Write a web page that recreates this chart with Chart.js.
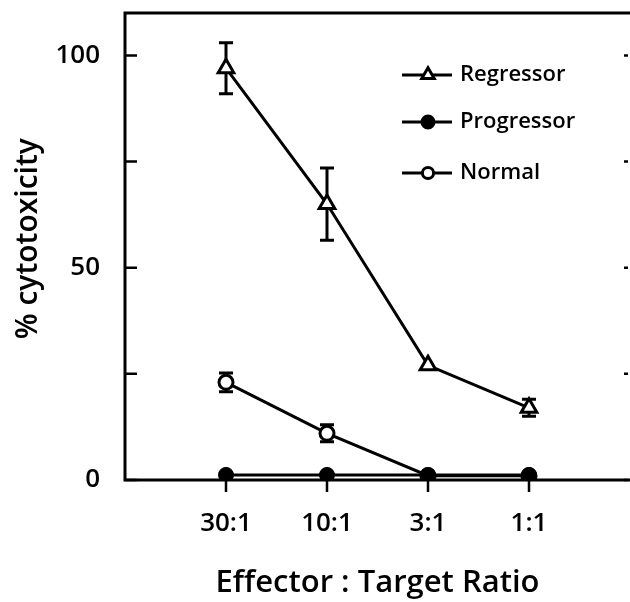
<!DOCTYPE html>
<html>
<head>
<meta charset="utf-8">
<script src="https://cdn.jsdelivr.net/npm/chart.js@4/dist/chart.umd.min.js"></script>
<style>
  html, body { margin: 0; padding: 0; background: #fff; overflow: hidden; }
  #wrap { width: 630px; height: 602px; }
</style>
</head>
<body>
<div id="wrap"><canvas id="chart" width="630" height="602"></canvas></div>
<script>
const categories = ['30:1', '10:1', '3:1', '1:1'];
const regressor = [97, 65, 27, 17];
const regressorErr = [6, 8.5, 0, 2];
const progressor = [1.2, 1.2, 1.2, 1.2];
const normal = [23, 11, 1, 1];
const normalErr = [2.2, 2, 0, 0];
const yTicks = [0, 25, 50, 75, 100];
const yLabels = { 0: '0', 50: '50', 100: '100' };

const FONT = '"Open Sans", "DejaVu Sans", sans-serif';

function toPoints(arr) {
    return arr.map((v, i) => ({ x: i + 1, y: v }));
}

const errorBars = {
    id: 'errorBars',
    beforeDatasetsDraw(chart) {
        const ctx = chart.ctx;
        const yScale = chart.scales.y;
        ctx.save();
        ctx.strokeStyle = '#000';
        ctx.lineWidth = 3;
        chart.data.datasets.forEach((ds, di) => {
            if (!ds.errors) return;
            const meta = chart.getDatasetMeta(di);
            meta.data.forEach((pt, i) => {
                const e = ds.errors[i];
                if (!e) return;
                const v = ds.data[i].y;
                const yT = yScale.getPixelForValue(v + e);
                const yB = yScale.getPixelForValue(v - e);
                ctx.beginPath();
                ctx.moveTo(pt.x, yT);
                ctx.lineTo(pt.x, yB);
                ctx.moveTo(pt.x - 7, yT);
                ctx.lineTo(pt.x + 7, yT);
                ctx.moveTo(pt.x - 7, yB);
                ctx.lineTo(pt.x + 7, yB);
                ctx.stroke();
            });
        });
        ctx.restore();
    }
};

// box on three sides, inward y ticks, outward x ticks
const frame = {
    id: 'frame',
    beforeDatasetsDraw(chart) {
        const ctx = chart.ctx;
        const a = chart.chartArea;
        const x = chart.scales.x, y = chart.scales.y;
        ctx.save();
        ctx.strokeStyle = '#000';
        ctx.lineWidth = 3;
        ctx.beginPath();
        ctx.moveTo(a.right + 5, a.top);
        ctx.lineTo(a.left, a.top);
        ctx.lineTo(a.left, a.bottom);
        ctx.lineTo(a.right + 5, a.bottom);
        ctx.stroke();
        ctx.lineWidth = 2.5;
        ctx.beginPath();
        yTicks.forEach(v => {
            const py = y.getPixelForValue(v);
            ctx.moveTo(a.left, py);
            ctx.lineTo(a.left + 12, py);
            ctx.moveTo(a.right - 2, py);
            ctx.lineTo(a.right - 6, py);
        });
        categories.forEach((c, i) => {
            const px = x.getPixelForValue(i + 1);
            ctx.moveTo(px, a.bottom);
            ctx.lineTo(px, a.bottom + 12);
        });
        ctx.stroke();
        ctx.restore();
    }
};

const insideLegend = {
    id: 'insideLegend',
    afterDraw(chart) {
        const ctx = chart.ctx;
        const rows = [75, 122, 173];
        ctx.save();
        chart.data.datasets.forEach((ds, i) => {
            const yy = rows[i];
            ctx.strokeStyle = '#000';
            ctx.lineWidth = 3;
            ctx.beginPath();
            ctx.moveTo(402, yy);
            ctx.lineTo(452, yy);
            ctx.stroke();
            ctx.fillStyle = ds.pointBackgroundColor;
            Chart.helpers.drawPoint(ctx, {
                pointStyle: ds.pointStyle,
                radius: ds.pointRadius * 0.8,
                borderWidth: 3
            }, 428, yy);
            ctx.fillStyle = '#000';
            ctx.font = '600 22px ' + FONT;
            ctx.textBaseline = 'middle';
            ctx.textAlign = 'left';
            ctx.fillText(ds.label, 460, yy);
        });
        ctx.restore();
    }
};

new Chart(document.getElementById('chart'), {
    type: 'line',
    data: {
        datasets: [
            {
                label: 'Regressor',
                data: toPoints(regressor),
                errors: regressorErr,
                borderColor: '#000',
                borderWidth: 3,
                pointStyle: 'triangle',
                pointRadius: 9,
                pointBackgroundColor: '#fff',
                pointBorderColor: '#000',
                pointBorderWidth: 3
            },
            {
                label: 'Progressor',
                data: toPoints(progressor),
                borderColor: '#000',
                borderWidth: 3,
                pointStyle: 'circle',
                pointRadius: 7.5,
                pointBackgroundColor: '#000',
                pointBorderColor: '#000',
                pointBorderWidth: 1
            },
            {
                label: 'Normal',
                data: toPoints(normal),
                errors: normalErr,
                borderColor: '#000',
                borderWidth: 3,
                pointStyle: 'circle',
                pointRadius: 7,
                pointBackgroundColor: '#fff',
                pointBorderColor: '#000',
                pointBorderWidth: 3
            }
        ]
    },
    options: {
        responsive: false,
        animation: false,
        layout: { autoPadding: false, padding: { top: 13, right: 0, left: 0, bottom: 0 } },
        plugins: {
            legend: { display: false },
            tooltip: { enabled: false }
        },
        scales: {
            x: {
                type: 'linear',
                min: 0,
                max: 5,
                grid: { display: false },
                border: { display: false },
                afterFit(scale) {
                    scale.height = 122;
                    scale.paddingLeft = 0;
                    scale.paddingRight = 0;
                },
                afterBuildTicks(scale) {
                    scale.ticks = categories.map((c, i) => ({ value: i + 1 }));
                },
                ticks: {
                    autoSkip: false,
                    maxRotation: 0,
                    padding: 20,
                    color: '#000',
                    font: { family: FONT, size: 26, weight: '600' },
                    callback: v => categories[v - 1] || ''
                },
                title: {
                    display: true,
                    text: 'Effector : Target Ratio',
                    color: '#000',
                    font: { family: FONT, size: 31, weight: '600' },
                    padding: { top: 0, bottom: 0 }
                }
            },
            y: {
                min: 0,
                max: 110,
                grid: { display: false },
                border: { display: false },
                afterFit(scale) {
                    scale.width = 125;
                    scale.paddingTop = 0;
                    scale.paddingBottom = 0;
                },
                afterBuildTicks(scale) {
                    scale.ticks = yTicks.map(v => ({ value: v }));
                },
                ticks: {
                    padding: 17,
                    color: '#000',
                    font: { family: FONT, size: 26, weight: '600' },
                    callback: v => yLabels[v] || ''
                },
                title: {
                    display: true,
                    text: '\u00a0\u00a0% cytotoxicity',
                    color: '#000',
                    font: { family: FONT, size: 30, weight: '600' },
                    padding: { top: 10, bottom: 0 }
                }
            }
        }
    },
    plugins: [frame, errorBars, insideLegend]
});
</script>
</body>
</html>
